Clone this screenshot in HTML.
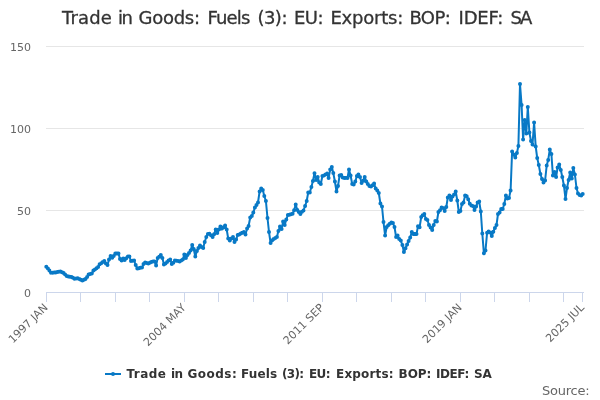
<!DOCTYPE html>
<html><head><meta charset="utf-8"><title>Trade in Goods: Fuels (3): EU: Exports: BOP: IDEF: SA</title>
<style>
html,body{margin:0;padding:0;background:#fff}
body{width:600px;height:400px;overflow:hidden}
svg{display:block;will-change:transform;font-family:"DejaVu Sans","Liberation Sans",Verdana,sans-serif}
</style></head><body>
<svg width="600" height="400" viewBox="0 0 600 400">
<rect width="600" height="400" fill="#ffffff"/>
<g shape-rendering="crispEdges"><path d="M46 46.5H584" stroke="#e6e6e6" stroke-width="1"/><path d="M46 128.5H584" stroke="#e6e6e6" stroke-width="1"/><path d="M46 210.5H584" stroke="#e6e6e6" stroke-width="1"/>
<path d="M46 292.5H584" stroke="#ccd6eb" stroke-width="1"/>
<path d="M46.5 292.5V302" stroke="#ccd6eb" stroke-width="1"/><path d="M80.5 292.5V302" stroke="#ccd6eb" stroke-width="1"/><path d="M115.5 292.5V302" stroke="#ccd6eb" stroke-width="1"/><path d="M149.5 292.5V302" stroke="#ccd6eb" stroke-width="1"/><path d="M184.5 292.5V302" stroke="#ccd6eb" stroke-width="1"/><path d="M218.5 292.5V302" stroke="#ccd6eb" stroke-width="1"/><path d="M253.5 292.5V302" stroke="#ccd6eb" stroke-width="1"/><path d="M287.5 292.5V302" stroke="#ccd6eb" stroke-width="1"/><path d="M322.5 292.5V302" stroke="#ccd6eb" stroke-width="1"/><path d="M356.5 292.5V302" stroke="#ccd6eb" stroke-width="1"/><path d="M391.5 292.5V302" stroke="#ccd6eb" stroke-width="1"/><path d="M425.5 292.5V302" stroke="#ccd6eb" stroke-width="1"/><path d="M460.5 292.5V302" stroke="#ccd6eb" stroke-width="1"/><path d="M494.5 292.5V302" stroke="#ccd6eb" stroke-width="1"/><path d="M529.5 292.5V302" stroke="#ccd6eb" stroke-width="1"/><path d="M563.5 292.5V302" stroke="#ccd6eb" stroke-width="1"/><path d="M582.5 292.5V302" stroke="#ccd6eb" stroke-width="1"/></g>
<text y="24" font-size="18" fill="#333333" stroke="#333333" stroke-width="0.3"><tspan x="62.00" textLength="49.88" lengthAdjust="spacing">Trade</tspan> <tspan x="118.10" textLength="14.92" lengthAdjust="spacing">in</tspan> <tspan x="138.60" textLength="61.44" lengthAdjust="spacing">Goods:</tspan> <tspan x="207.40" textLength="43.03" lengthAdjust="spacing">Fuels</tspan> <tspan x="257.40" textLength="30.06" lengthAdjust="spacing">(3):</tspan> <tspan x="294.00" textLength="29.62" lengthAdjust="spacing">EU:</tspan> <tspan x="330.40" textLength="72.88" lengthAdjust="spacing">Exports:</tspan> <tspan x="409.40" textLength="41.42" lengthAdjust="spacing">BOP:</tspan> <tspan x="458.60" textLength="44.66" lengthAdjust="spacing">IDEF:</tspan> <tspan x="510.40" textLength="21.98" lengthAdjust="spacing">SA</tspan></text>
<text x="31" y="51" text-anchor="end" font-size="11" fill="#666666">150</text><text x="31" y="133" text-anchor="end" font-size="11" fill="#666666">100</text><text x="31" y="215" text-anchor="end" font-size="11" fill="#666666">50</text><text x="31" y="297" text-anchor="end" font-size="11" fill="#666666">0</text>
<text x="48.5" y="308.2" text-anchor="end" font-size="11" fill="#666666" transform="rotate(-45 48.5 308.2)">1997 JAN</text><text x="186.5" y="308.2" text-anchor="end" font-size="11" fill="#666666" transform="rotate(-45 186.5 308.2)">2004 MAY</text><text x="324.6" y="308.2" text-anchor="end" font-size="11" fill="#666666" transform="rotate(-45 324.6 308.2)">2011 SEP</text><text x="462.6" y="308.2" text-anchor="end" font-size="11" fill="#666666" transform="rotate(-45 462.6 308.2)">2019 JAN</text><text x="584.9" y="308.2" text-anchor="end" font-size="11" fill="#666666" transform="rotate(-45 584.9 308.2)">2025 JUL</text>
<path d="M46.3 266.8 L47.9 268.5 L49.4 270.5 L51.0 272.8 L52.6 272.7 L54.1 272.6 L55.7 272.5 L57.3 272.1 L58.8 271.8 L60.4 271.5 L62.0 272.2 L63.6 273.0 L65.1 274.6 L66.7 276.0 L68.3 276.4 L69.8 276.7 L71.4 277.0 L73.0 277.8 L74.5 278.7 L76.1 278.5 L77.7 278.2 L79.2 278.9 L80.8 279.8 L82.4 280.5 L83.9 279.7 L85.5 279.0 L87.1 277.0 L88.6 274.5 L90.2 274.1 L91.8 273.5 L93.4 270.5 L94.9 269.4 L96.5 268.3 L98.1 266.9 L99.6 264.3 L101.2 263.3 L102.8 262.0 L104.3 261.0 L105.9 263.5 L107.5 265.0 L109.0 259.5 L110.6 256.0 L112.2 257.7 L113.7 256.0 L115.3 253.5 L116.9 253.5 L118.5 253.5 L120.0 259.0 L121.6 260.5 L123.2 258.5 L124.7 260.0 L126.3 258.2 L127.9 256.5 L129.4 256.5 L131.0 261.0 L132.6 260.7 L134.1 260.5 L135.7 265.0 L137.3 268.5 L138.8 268.3 L140.4 267.8 L142.0 267.5 L143.5 264.1 L145.1 262.5 L146.7 263.1 L148.3 263.5 L149.8 262.7 L151.4 262.0 L153.0 261.5 L154.5 261.5 L156.1 265.5 L157.7 258.0 L159.2 256.8 L160.8 255.0 L162.4 258.0 L163.9 264.5 L165.5 263.5 L167.1 261.9 L168.6 260.4 L170.2 259.5 L171.8 264.0 L173.3 262.7 L174.9 260.5 L176.5 260.7 L178.1 261.1 L179.6 261.5 L181.2 260.6 L182.8 259.5 L184.3 254.5 L185.9 258.0 L187.5 255.0 L189.0 253.0 L190.6 250.5 L192.2 245.0 L193.7 249.0 L195.3 256.5 L196.9 251.0 L198.4 248.0 L200.0 245.5 L201.6 247.0 L203.2 248.0 L204.7 242.0 L206.3 237.0 L207.9 234.0 L209.4 233.8 L211.0 235.2 L212.6 237.0 L214.1 234.2 L215.7 229.5 L217.3 233.0 L218.8 229.5 L220.4 226.5 L222.0 228.5 L223.5 227.2 L225.1 225.5 L226.7 229.5 L228.2 238.5 L229.8 240.5 L231.4 238.6 L233.0 237.0 L234.5 242.0 L236.1 239.5 L237.7 235.0 L239.2 234.4 L240.8 233.6 L242.4 232.8 L243.9 232.0 L245.5 234.5 L247.1 228.5 L248.6 226.0 L250.2 217.5 L251.8 216.0 L253.3 212.5 L254.9 207.5 L256.5 205.0 L258.0 202.5 L259.6 191.5 L261.2 188.5 L262.8 190.0 L264.3 196.0 L265.9 201.0 L267.5 218.0 L269.0 232.0 L270.6 243.0 L272.2 240.3 L273.7 239.0 L275.3 238.0 L276.9 237.0 L278.4 231.0 L280.0 226.5 L281.6 229.0 L283.1 221.5 L284.7 225.0 L286.3 219.5 L287.9 215.0 L289.4 214.7 L291.0 214.3 L292.6 213.8 L294.1 210.2 L295.7 204.5 L297.3 210.0 L298.8 212.1 L300.4 214.0 L302.0 211.7 L303.5 210.5 L305.1 206.0 L306.7 201.0 L308.2 192.5 L309.8 192.5 L311.4 187.0 L312.9 181.0 L314.5 173.2 L316.1 180.0 L317.7 177.0 L319.2 182.5 L320.8 184.0 L322.4 176.0 L323.9 175.5 L325.5 174.5 L327.1 173.5 L328.6 178.0 L330.2 169.5 L331.8 167.0 L333.3 173.0 L334.9 181.5 L336.5 191.5 L338.0 186.0 L339.6 175.5 L341.2 175.0 L342.7 177.5 L344.3 178.0 L345.9 178.0 L347.5 178.0 L349.0 169.5 L350.6 175.5 L352.2 184.0 L353.7 184.5 L355.3 181.5 L356.9 176.0 L358.4 174.5 L360.0 177.0 L361.6 183.0 L363.1 180.7 L364.7 177.0 L366.3 181.5 L367.8 183.9 L369.4 186.0 L371.0 186.5 L372.6 185.2 L374.1 183.5 L375.7 188.5 L377.3 190.5 L378.8 193.0 L380.4 203.5 L382.0 206.5 L383.5 222.0 L385.1 235.5 L386.7 227.0 L388.2 225.3 L389.8 223.7 L391.4 222.5 L392.9 223.0 L394.5 227.0 L396.1 237.0 L397.6 235.5 L399.2 239.0 L400.8 240.5 L402.4 245.0 L403.9 252.0 L405.5 248.3 L407.1 244.5 L408.6 241.0 L410.2 237.5 L411.8 232.0 L413.3 234.0 L414.9 234.0 L416.5 234.0 L418.0 226.3 L419.6 227.3 L421.2 217.0 L422.7 215.3 L424.3 214.0 L425.9 219.0 L427.4 220.0 L429.0 225.0 L430.6 227.5 L432.2 230.0 L433.7 225.0 L435.3 221.0 L436.9 221.5 L438.4 212.0 L440.0 210.3 L441.6 207.5 L443.1 207.9 L444.7 211.0 L446.3 207.0 L447.8 197.5 L449.4 195.5 L451.0 200.0 L452.5 196.6 L454.1 194.5 L455.7 191.5 L457.3 200.5 L458.8 212.0 L460.4 211.0 L462.0 204.0 L463.5 202.5 L465.1 195.5 L466.7 196.2 L468.2 199.2 L469.8 203.8 L471.4 205.5 L472.9 206.0 L474.5 210.0 L476.1 206.5 L477.6 202.5 L479.2 201.5 L480.8 211.5 L482.3 233.5 L483.9 253.3 L485.5 250.5 L487.1 232.7 L488.6 231.5 L490.2 232.5 L491.8 236.0 L493.3 231.8 L494.9 228.0 L496.5 225.0 L498.0 214.0 L499.6 212.5 L501.2 209.0 L502.7 209.0 L504.3 204.0 L505.9 195.5 L507.4 198.5 L509.0 198.0 L510.6 190.5 L512.1 151.5 L513.7 154.5 L515.3 157.5 L516.9 153.0 L518.4 146.0 L520.0 84.0 L521.6 105.0 L523.1 139.5 L524.7 120.0 L526.3 133.5 L527.8 107.0 L529.4 132.5 L531.0 141.0 L532.5 144.5 L534.1 122.5 L535.7 146.5 L537.2 158.0 L538.8 165.0 L540.4 174.0 L542.0 179.0 L543.5 182.5 L545.1 180.5 L546.7 165.5 L548.2 160.0 L549.8 149.5 L551.4 154.0 L552.9 175.5 L554.5 172.0 L556.1 177.0 L557.6 167.5 L559.2 164.5 L560.8 170.0 L562.3 177.0 L563.9 185.5 L565.5 199.0 L567.0 188.0 L568.6 180.0 L570.2 172.5 L571.8 178.5 L573.3 168.0 L574.9 174.5 L576.5 188.0 L578.0 193.5 L579.6 195.0 L581.2 195.5 L582.7 194.0" fill="none" stroke="#0879c6" stroke-width="2" stroke-linejoin="round" stroke-linecap="round"/>
<path d="M44.3 266.8a2 2 0 1 0 4 0a2 2 0 1 0 -4 0zM45.9 268.5a2 2 0 1 0 4 0a2 2 0 1 0 -4 0zM47.4 270.5a2 2 0 1 0 4 0a2 2 0 1 0 -4 0zM49.0 272.8a2 2 0 1 0 4 0a2 2 0 1 0 -4 0zM50.6 272.7a2 2 0 1 0 4 0a2 2 0 1 0 -4 0zM52.1 272.6a2 2 0 1 0 4 0a2 2 0 1 0 -4 0zM53.7 272.5a2 2 0 1 0 4 0a2 2 0 1 0 -4 0zM55.3 272.1a2 2 0 1 0 4 0a2 2 0 1 0 -4 0zM56.8 271.8a2 2 0 1 0 4 0a2 2 0 1 0 -4 0zM58.4 271.5a2 2 0 1 0 4 0a2 2 0 1 0 -4 0zM60.0 272.2a2 2 0 1 0 4 0a2 2 0 1 0 -4 0zM61.6 273.0a2 2 0 1 0 4 0a2 2 0 1 0 -4 0zM63.1 274.6a2 2 0 1 0 4 0a2 2 0 1 0 -4 0zM64.7 276.0a2 2 0 1 0 4 0a2 2 0 1 0 -4 0zM66.3 276.4a2 2 0 1 0 4 0a2 2 0 1 0 -4 0zM67.8 276.7a2 2 0 1 0 4 0a2 2 0 1 0 -4 0zM69.4 277.0a2 2 0 1 0 4 0a2 2 0 1 0 -4 0zM71.0 277.8a2 2 0 1 0 4 0a2 2 0 1 0 -4 0zM72.5 278.7a2 2 0 1 0 4 0a2 2 0 1 0 -4 0zM74.1 278.5a2 2 0 1 0 4 0a2 2 0 1 0 -4 0zM75.7 278.2a2 2 0 1 0 4 0a2 2 0 1 0 -4 0zM77.2 278.9a2 2 0 1 0 4 0a2 2 0 1 0 -4 0zM78.8 279.8a2 2 0 1 0 4 0a2 2 0 1 0 -4 0zM80.4 280.5a2 2 0 1 0 4 0a2 2 0 1 0 -4 0zM81.9 279.7a2 2 0 1 0 4 0a2 2 0 1 0 -4 0zM83.5 279.0a2 2 0 1 0 4 0a2 2 0 1 0 -4 0zM85.1 277.0a2 2 0 1 0 4 0a2 2 0 1 0 -4 0zM86.6 274.5a2 2 0 1 0 4 0a2 2 0 1 0 -4 0zM88.2 274.1a2 2 0 1 0 4 0a2 2 0 1 0 -4 0zM89.8 273.5a2 2 0 1 0 4 0a2 2 0 1 0 -4 0zM91.4 270.5a2 2 0 1 0 4 0a2 2 0 1 0 -4 0zM92.9 269.4a2 2 0 1 0 4 0a2 2 0 1 0 -4 0zM94.5 268.3a2 2 0 1 0 4 0a2 2 0 1 0 -4 0zM96.1 266.9a2 2 0 1 0 4 0a2 2 0 1 0 -4 0zM97.6 264.3a2 2 0 1 0 4 0a2 2 0 1 0 -4 0zM99.2 263.3a2 2 0 1 0 4 0a2 2 0 1 0 -4 0zM100.8 262.0a2 2 0 1 0 4 0a2 2 0 1 0 -4 0zM102.3 261.0a2 2 0 1 0 4 0a2 2 0 1 0 -4 0zM103.9 263.5a2 2 0 1 0 4 0a2 2 0 1 0 -4 0zM105.5 265.0a2 2 0 1 0 4 0a2 2 0 1 0 -4 0zM107.0 259.5a2 2 0 1 0 4 0a2 2 0 1 0 -4 0zM108.6 256.0a2 2 0 1 0 4 0a2 2 0 1 0 -4 0zM110.2 257.7a2 2 0 1 0 4 0a2 2 0 1 0 -4 0zM111.7 256.0a2 2 0 1 0 4 0a2 2 0 1 0 -4 0zM113.3 253.5a2 2 0 1 0 4 0a2 2 0 1 0 -4 0zM114.9 253.5a2 2 0 1 0 4 0a2 2 0 1 0 -4 0zM116.5 253.5a2 2 0 1 0 4 0a2 2 0 1 0 -4 0zM118.0 259.0a2 2 0 1 0 4 0a2 2 0 1 0 -4 0zM119.6 260.5a2 2 0 1 0 4 0a2 2 0 1 0 -4 0zM121.2 258.5a2 2 0 1 0 4 0a2 2 0 1 0 -4 0zM122.7 260.0a2 2 0 1 0 4 0a2 2 0 1 0 -4 0zM124.3 258.2a2 2 0 1 0 4 0a2 2 0 1 0 -4 0zM125.9 256.5a2 2 0 1 0 4 0a2 2 0 1 0 -4 0zM127.4 256.5a2 2 0 1 0 4 0a2 2 0 1 0 -4 0zM129.0 261.0a2 2 0 1 0 4 0a2 2 0 1 0 -4 0zM130.6 260.7a2 2 0 1 0 4 0a2 2 0 1 0 -4 0zM132.1 260.5a2 2 0 1 0 4 0a2 2 0 1 0 -4 0zM133.7 265.0a2 2 0 1 0 4 0a2 2 0 1 0 -4 0zM135.3 268.5a2 2 0 1 0 4 0a2 2 0 1 0 -4 0zM136.8 268.3a2 2 0 1 0 4 0a2 2 0 1 0 -4 0zM138.4 267.8a2 2 0 1 0 4 0a2 2 0 1 0 -4 0zM140.0 267.5a2 2 0 1 0 4 0a2 2 0 1 0 -4 0zM141.5 264.1a2 2 0 1 0 4 0a2 2 0 1 0 -4 0zM143.1 262.5a2 2 0 1 0 4 0a2 2 0 1 0 -4 0zM144.7 263.1a2 2 0 1 0 4 0a2 2 0 1 0 -4 0zM146.3 263.5a2 2 0 1 0 4 0a2 2 0 1 0 -4 0zM147.8 262.7a2 2 0 1 0 4 0a2 2 0 1 0 -4 0zM149.4 262.0a2 2 0 1 0 4 0a2 2 0 1 0 -4 0zM151.0 261.5a2 2 0 1 0 4 0a2 2 0 1 0 -4 0zM152.5 261.5a2 2 0 1 0 4 0a2 2 0 1 0 -4 0zM154.1 265.5a2 2 0 1 0 4 0a2 2 0 1 0 -4 0zM155.7 258.0a2 2 0 1 0 4 0a2 2 0 1 0 -4 0zM157.2 256.8a2 2 0 1 0 4 0a2 2 0 1 0 -4 0zM158.8 255.0a2 2 0 1 0 4 0a2 2 0 1 0 -4 0zM160.4 258.0a2 2 0 1 0 4 0a2 2 0 1 0 -4 0zM161.9 264.5a2 2 0 1 0 4 0a2 2 0 1 0 -4 0zM163.5 263.5a2 2 0 1 0 4 0a2 2 0 1 0 -4 0zM165.1 261.9a2 2 0 1 0 4 0a2 2 0 1 0 -4 0zM166.6 260.4a2 2 0 1 0 4 0a2 2 0 1 0 -4 0zM168.2 259.5a2 2 0 1 0 4 0a2 2 0 1 0 -4 0zM169.8 264.0a2 2 0 1 0 4 0a2 2 0 1 0 -4 0zM171.3 262.7a2 2 0 1 0 4 0a2 2 0 1 0 -4 0zM172.9 260.5a2 2 0 1 0 4 0a2 2 0 1 0 -4 0zM174.5 260.7a2 2 0 1 0 4 0a2 2 0 1 0 -4 0zM176.1 261.1a2 2 0 1 0 4 0a2 2 0 1 0 -4 0zM177.6 261.5a2 2 0 1 0 4 0a2 2 0 1 0 -4 0zM179.2 260.6a2 2 0 1 0 4 0a2 2 0 1 0 -4 0zM180.8 259.5a2 2 0 1 0 4 0a2 2 0 1 0 -4 0zM182.3 254.5a2 2 0 1 0 4 0a2 2 0 1 0 -4 0zM183.9 258.0a2 2 0 1 0 4 0a2 2 0 1 0 -4 0zM185.5 255.0a2 2 0 1 0 4 0a2 2 0 1 0 -4 0zM187.0 253.0a2 2 0 1 0 4 0a2 2 0 1 0 -4 0zM188.6 250.5a2 2 0 1 0 4 0a2 2 0 1 0 -4 0zM190.2 245.0a2 2 0 1 0 4 0a2 2 0 1 0 -4 0zM191.7 249.0a2 2 0 1 0 4 0a2 2 0 1 0 -4 0zM193.3 256.5a2 2 0 1 0 4 0a2 2 0 1 0 -4 0zM194.9 251.0a2 2 0 1 0 4 0a2 2 0 1 0 -4 0zM196.4 248.0a2 2 0 1 0 4 0a2 2 0 1 0 -4 0zM198.0 245.5a2 2 0 1 0 4 0a2 2 0 1 0 -4 0zM199.6 247.0a2 2 0 1 0 4 0a2 2 0 1 0 -4 0zM201.2 248.0a2 2 0 1 0 4 0a2 2 0 1 0 -4 0zM202.7 242.0a2 2 0 1 0 4 0a2 2 0 1 0 -4 0zM204.3 237.0a2 2 0 1 0 4 0a2 2 0 1 0 -4 0zM205.9 234.0a2 2 0 1 0 4 0a2 2 0 1 0 -4 0zM207.4 233.8a2 2 0 1 0 4 0a2 2 0 1 0 -4 0zM209.0 235.2a2 2 0 1 0 4 0a2 2 0 1 0 -4 0zM210.6 237.0a2 2 0 1 0 4 0a2 2 0 1 0 -4 0zM212.1 234.2a2 2 0 1 0 4 0a2 2 0 1 0 -4 0zM213.7 229.5a2 2 0 1 0 4 0a2 2 0 1 0 -4 0zM215.3 233.0a2 2 0 1 0 4 0a2 2 0 1 0 -4 0zM216.8 229.5a2 2 0 1 0 4 0a2 2 0 1 0 -4 0zM218.4 226.5a2 2 0 1 0 4 0a2 2 0 1 0 -4 0zM220.0 228.5a2 2 0 1 0 4 0a2 2 0 1 0 -4 0zM221.5 227.2a2 2 0 1 0 4 0a2 2 0 1 0 -4 0zM223.1 225.5a2 2 0 1 0 4 0a2 2 0 1 0 -4 0zM224.7 229.5a2 2 0 1 0 4 0a2 2 0 1 0 -4 0zM226.2 238.5a2 2 0 1 0 4 0a2 2 0 1 0 -4 0zM227.8 240.5a2 2 0 1 0 4 0a2 2 0 1 0 -4 0zM229.4 238.6a2 2 0 1 0 4 0a2 2 0 1 0 -4 0zM231.0 237.0a2 2 0 1 0 4 0a2 2 0 1 0 -4 0zM232.5 242.0a2 2 0 1 0 4 0a2 2 0 1 0 -4 0zM234.1 239.5a2 2 0 1 0 4 0a2 2 0 1 0 -4 0zM235.7 235.0a2 2 0 1 0 4 0a2 2 0 1 0 -4 0zM237.2 234.4a2 2 0 1 0 4 0a2 2 0 1 0 -4 0zM238.8 233.6a2 2 0 1 0 4 0a2 2 0 1 0 -4 0zM240.4 232.8a2 2 0 1 0 4 0a2 2 0 1 0 -4 0zM241.9 232.0a2 2 0 1 0 4 0a2 2 0 1 0 -4 0zM243.5 234.5a2 2 0 1 0 4 0a2 2 0 1 0 -4 0zM245.1 228.5a2 2 0 1 0 4 0a2 2 0 1 0 -4 0zM246.6 226.0a2 2 0 1 0 4 0a2 2 0 1 0 -4 0zM248.2 217.5a2 2 0 1 0 4 0a2 2 0 1 0 -4 0zM249.8 216.0a2 2 0 1 0 4 0a2 2 0 1 0 -4 0zM251.3 212.5a2 2 0 1 0 4 0a2 2 0 1 0 -4 0zM252.9 207.5a2 2 0 1 0 4 0a2 2 0 1 0 -4 0zM254.5 205.0a2 2 0 1 0 4 0a2 2 0 1 0 -4 0zM256.0 202.5a2 2 0 1 0 4 0a2 2 0 1 0 -4 0zM257.6 191.5a2 2 0 1 0 4 0a2 2 0 1 0 -4 0zM259.2 188.5a2 2 0 1 0 4 0a2 2 0 1 0 -4 0zM260.8 190.0a2 2 0 1 0 4 0a2 2 0 1 0 -4 0zM262.3 196.0a2 2 0 1 0 4 0a2 2 0 1 0 -4 0zM263.9 201.0a2 2 0 1 0 4 0a2 2 0 1 0 -4 0zM265.5 218.0a2 2 0 1 0 4 0a2 2 0 1 0 -4 0zM267.0 232.0a2 2 0 1 0 4 0a2 2 0 1 0 -4 0zM268.6 243.0a2 2 0 1 0 4 0a2 2 0 1 0 -4 0zM270.2 240.3a2 2 0 1 0 4 0a2 2 0 1 0 -4 0zM271.7 239.0a2 2 0 1 0 4 0a2 2 0 1 0 -4 0zM273.3 238.0a2 2 0 1 0 4 0a2 2 0 1 0 -4 0zM274.9 237.0a2 2 0 1 0 4 0a2 2 0 1 0 -4 0zM276.4 231.0a2 2 0 1 0 4 0a2 2 0 1 0 -4 0zM278.0 226.5a2 2 0 1 0 4 0a2 2 0 1 0 -4 0zM279.6 229.0a2 2 0 1 0 4 0a2 2 0 1 0 -4 0zM281.1 221.5a2 2 0 1 0 4 0a2 2 0 1 0 -4 0zM282.7 225.0a2 2 0 1 0 4 0a2 2 0 1 0 -4 0zM284.3 219.5a2 2 0 1 0 4 0a2 2 0 1 0 -4 0zM285.9 215.0a2 2 0 1 0 4 0a2 2 0 1 0 -4 0zM287.4 214.7a2 2 0 1 0 4 0a2 2 0 1 0 -4 0zM289.0 214.3a2 2 0 1 0 4 0a2 2 0 1 0 -4 0zM290.6 213.8a2 2 0 1 0 4 0a2 2 0 1 0 -4 0zM292.1 210.2a2 2 0 1 0 4 0a2 2 0 1 0 -4 0zM293.7 204.5a2 2 0 1 0 4 0a2 2 0 1 0 -4 0zM295.3 210.0a2 2 0 1 0 4 0a2 2 0 1 0 -4 0zM296.8 212.1a2 2 0 1 0 4 0a2 2 0 1 0 -4 0zM298.4 214.0a2 2 0 1 0 4 0a2 2 0 1 0 -4 0zM300.0 211.7a2 2 0 1 0 4 0a2 2 0 1 0 -4 0zM301.5 210.5a2 2 0 1 0 4 0a2 2 0 1 0 -4 0zM303.1 206.0a2 2 0 1 0 4 0a2 2 0 1 0 -4 0zM304.7 201.0a2 2 0 1 0 4 0a2 2 0 1 0 -4 0zM306.2 192.5a2 2 0 1 0 4 0a2 2 0 1 0 -4 0zM307.8 192.5a2 2 0 1 0 4 0a2 2 0 1 0 -4 0zM309.4 187.0a2 2 0 1 0 4 0a2 2 0 1 0 -4 0zM310.9 181.0a2 2 0 1 0 4 0a2 2 0 1 0 -4 0zM312.5 173.2a2 2 0 1 0 4 0a2 2 0 1 0 -4 0zM314.1 180.0a2 2 0 1 0 4 0a2 2 0 1 0 -4 0zM315.7 177.0a2 2 0 1 0 4 0a2 2 0 1 0 -4 0zM317.2 182.5a2 2 0 1 0 4 0a2 2 0 1 0 -4 0zM318.8 184.0a2 2 0 1 0 4 0a2 2 0 1 0 -4 0zM320.4 176.0a2 2 0 1 0 4 0a2 2 0 1 0 -4 0zM321.9 175.5a2 2 0 1 0 4 0a2 2 0 1 0 -4 0zM323.5 174.5a2 2 0 1 0 4 0a2 2 0 1 0 -4 0zM325.1 173.5a2 2 0 1 0 4 0a2 2 0 1 0 -4 0zM326.6 178.0a2 2 0 1 0 4 0a2 2 0 1 0 -4 0zM328.2 169.5a2 2 0 1 0 4 0a2 2 0 1 0 -4 0zM329.8 167.0a2 2 0 1 0 4 0a2 2 0 1 0 -4 0zM331.3 173.0a2 2 0 1 0 4 0a2 2 0 1 0 -4 0zM332.9 181.5a2 2 0 1 0 4 0a2 2 0 1 0 -4 0zM334.5 191.5a2 2 0 1 0 4 0a2 2 0 1 0 -4 0zM336.0 186.0a2 2 0 1 0 4 0a2 2 0 1 0 -4 0zM337.6 175.5a2 2 0 1 0 4 0a2 2 0 1 0 -4 0zM339.2 175.0a2 2 0 1 0 4 0a2 2 0 1 0 -4 0zM340.7 177.5a2 2 0 1 0 4 0a2 2 0 1 0 -4 0zM342.3 178.0a2 2 0 1 0 4 0a2 2 0 1 0 -4 0zM343.9 178.0a2 2 0 1 0 4 0a2 2 0 1 0 -4 0zM345.5 178.0a2 2 0 1 0 4 0a2 2 0 1 0 -4 0zM347.0 169.5a2 2 0 1 0 4 0a2 2 0 1 0 -4 0zM348.6 175.5a2 2 0 1 0 4 0a2 2 0 1 0 -4 0zM350.2 184.0a2 2 0 1 0 4 0a2 2 0 1 0 -4 0zM351.7 184.5a2 2 0 1 0 4 0a2 2 0 1 0 -4 0zM353.3 181.5a2 2 0 1 0 4 0a2 2 0 1 0 -4 0zM354.9 176.0a2 2 0 1 0 4 0a2 2 0 1 0 -4 0zM356.4 174.5a2 2 0 1 0 4 0a2 2 0 1 0 -4 0zM358.0 177.0a2 2 0 1 0 4 0a2 2 0 1 0 -4 0zM359.6 183.0a2 2 0 1 0 4 0a2 2 0 1 0 -4 0zM361.1 180.7a2 2 0 1 0 4 0a2 2 0 1 0 -4 0zM362.7 177.0a2 2 0 1 0 4 0a2 2 0 1 0 -4 0zM364.3 181.5a2 2 0 1 0 4 0a2 2 0 1 0 -4 0zM365.8 183.9a2 2 0 1 0 4 0a2 2 0 1 0 -4 0zM367.4 186.0a2 2 0 1 0 4 0a2 2 0 1 0 -4 0zM369.0 186.5a2 2 0 1 0 4 0a2 2 0 1 0 -4 0zM370.6 185.2a2 2 0 1 0 4 0a2 2 0 1 0 -4 0zM372.1 183.5a2 2 0 1 0 4 0a2 2 0 1 0 -4 0zM373.7 188.5a2 2 0 1 0 4 0a2 2 0 1 0 -4 0zM375.3 190.5a2 2 0 1 0 4 0a2 2 0 1 0 -4 0zM376.8 193.0a2 2 0 1 0 4 0a2 2 0 1 0 -4 0zM378.4 203.5a2 2 0 1 0 4 0a2 2 0 1 0 -4 0zM380.0 206.5a2 2 0 1 0 4 0a2 2 0 1 0 -4 0zM381.5 222.0a2 2 0 1 0 4 0a2 2 0 1 0 -4 0zM383.1 235.5a2 2 0 1 0 4 0a2 2 0 1 0 -4 0zM384.7 227.0a2 2 0 1 0 4 0a2 2 0 1 0 -4 0zM386.2 225.3a2 2 0 1 0 4 0a2 2 0 1 0 -4 0zM387.8 223.7a2 2 0 1 0 4 0a2 2 0 1 0 -4 0zM389.4 222.5a2 2 0 1 0 4 0a2 2 0 1 0 -4 0zM390.9 223.0a2 2 0 1 0 4 0a2 2 0 1 0 -4 0zM392.5 227.0a2 2 0 1 0 4 0a2 2 0 1 0 -4 0zM394.1 237.0a2 2 0 1 0 4 0a2 2 0 1 0 -4 0zM395.6 235.5a2 2 0 1 0 4 0a2 2 0 1 0 -4 0zM397.2 239.0a2 2 0 1 0 4 0a2 2 0 1 0 -4 0zM398.8 240.5a2 2 0 1 0 4 0a2 2 0 1 0 -4 0zM400.4 245.0a2 2 0 1 0 4 0a2 2 0 1 0 -4 0zM401.9 252.0a2 2 0 1 0 4 0a2 2 0 1 0 -4 0zM403.5 248.3a2 2 0 1 0 4 0a2 2 0 1 0 -4 0zM405.1 244.5a2 2 0 1 0 4 0a2 2 0 1 0 -4 0zM406.6 241.0a2 2 0 1 0 4 0a2 2 0 1 0 -4 0zM408.2 237.5a2 2 0 1 0 4 0a2 2 0 1 0 -4 0zM409.8 232.0a2 2 0 1 0 4 0a2 2 0 1 0 -4 0zM411.3 234.0a2 2 0 1 0 4 0a2 2 0 1 0 -4 0zM412.9 234.0a2 2 0 1 0 4 0a2 2 0 1 0 -4 0zM414.5 234.0a2 2 0 1 0 4 0a2 2 0 1 0 -4 0zM416.0 226.3a2 2 0 1 0 4 0a2 2 0 1 0 -4 0zM417.6 227.3a2 2 0 1 0 4 0a2 2 0 1 0 -4 0zM419.2 217.0a2 2 0 1 0 4 0a2 2 0 1 0 -4 0zM420.7 215.3a2 2 0 1 0 4 0a2 2 0 1 0 -4 0zM422.3 214.0a2 2 0 1 0 4 0a2 2 0 1 0 -4 0zM423.9 219.0a2 2 0 1 0 4 0a2 2 0 1 0 -4 0zM425.4 220.0a2 2 0 1 0 4 0a2 2 0 1 0 -4 0zM427.0 225.0a2 2 0 1 0 4 0a2 2 0 1 0 -4 0zM428.6 227.5a2 2 0 1 0 4 0a2 2 0 1 0 -4 0zM430.2 230.0a2 2 0 1 0 4 0a2 2 0 1 0 -4 0zM431.7 225.0a2 2 0 1 0 4 0a2 2 0 1 0 -4 0zM433.3 221.0a2 2 0 1 0 4 0a2 2 0 1 0 -4 0zM434.9 221.5a2 2 0 1 0 4 0a2 2 0 1 0 -4 0zM436.4 212.0a2 2 0 1 0 4 0a2 2 0 1 0 -4 0zM438.0 210.3a2 2 0 1 0 4 0a2 2 0 1 0 -4 0zM439.6 207.5a2 2 0 1 0 4 0a2 2 0 1 0 -4 0zM441.1 207.9a2 2 0 1 0 4 0a2 2 0 1 0 -4 0zM442.7 211.0a2 2 0 1 0 4 0a2 2 0 1 0 -4 0zM444.3 207.0a2 2 0 1 0 4 0a2 2 0 1 0 -4 0zM445.8 197.5a2 2 0 1 0 4 0a2 2 0 1 0 -4 0zM447.4 195.5a2 2 0 1 0 4 0a2 2 0 1 0 -4 0zM449.0 200.0a2 2 0 1 0 4 0a2 2 0 1 0 -4 0zM450.5 196.6a2 2 0 1 0 4 0a2 2 0 1 0 -4 0zM452.1 194.5a2 2 0 1 0 4 0a2 2 0 1 0 -4 0zM453.7 191.5a2 2 0 1 0 4 0a2 2 0 1 0 -4 0zM455.3 200.5a2 2 0 1 0 4 0a2 2 0 1 0 -4 0zM456.8 212.0a2 2 0 1 0 4 0a2 2 0 1 0 -4 0zM458.4 211.0a2 2 0 1 0 4 0a2 2 0 1 0 -4 0zM460.0 204.0a2 2 0 1 0 4 0a2 2 0 1 0 -4 0zM461.5 202.5a2 2 0 1 0 4 0a2 2 0 1 0 -4 0zM463.1 195.5a2 2 0 1 0 4 0a2 2 0 1 0 -4 0zM464.7 196.2a2 2 0 1 0 4 0a2 2 0 1 0 -4 0zM466.2 199.2a2 2 0 1 0 4 0a2 2 0 1 0 -4 0zM467.8 203.8a2 2 0 1 0 4 0a2 2 0 1 0 -4 0zM469.4 205.5a2 2 0 1 0 4 0a2 2 0 1 0 -4 0zM470.9 206.0a2 2 0 1 0 4 0a2 2 0 1 0 -4 0zM472.5 210.0a2 2 0 1 0 4 0a2 2 0 1 0 -4 0zM474.1 206.5a2 2 0 1 0 4 0a2 2 0 1 0 -4 0zM475.6 202.5a2 2 0 1 0 4 0a2 2 0 1 0 -4 0zM477.2 201.5a2 2 0 1 0 4 0a2 2 0 1 0 -4 0zM478.8 211.5a2 2 0 1 0 4 0a2 2 0 1 0 -4 0zM480.3 233.5a2 2 0 1 0 4 0a2 2 0 1 0 -4 0zM481.9 253.3a2 2 0 1 0 4 0a2 2 0 1 0 -4 0zM483.5 250.5a2 2 0 1 0 4 0a2 2 0 1 0 -4 0zM485.1 232.7a2 2 0 1 0 4 0a2 2 0 1 0 -4 0zM486.6 231.5a2 2 0 1 0 4 0a2 2 0 1 0 -4 0zM488.2 232.5a2 2 0 1 0 4 0a2 2 0 1 0 -4 0zM489.8 236.0a2 2 0 1 0 4 0a2 2 0 1 0 -4 0zM491.3 231.8a2 2 0 1 0 4 0a2 2 0 1 0 -4 0zM492.9 228.0a2 2 0 1 0 4 0a2 2 0 1 0 -4 0zM494.5 225.0a2 2 0 1 0 4 0a2 2 0 1 0 -4 0zM496.0 214.0a2 2 0 1 0 4 0a2 2 0 1 0 -4 0zM497.6 212.5a2 2 0 1 0 4 0a2 2 0 1 0 -4 0zM499.2 209.0a2 2 0 1 0 4 0a2 2 0 1 0 -4 0zM500.7 209.0a2 2 0 1 0 4 0a2 2 0 1 0 -4 0zM502.3 204.0a2 2 0 1 0 4 0a2 2 0 1 0 -4 0zM503.9 195.5a2 2 0 1 0 4 0a2 2 0 1 0 -4 0zM505.4 198.5a2 2 0 1 0 4 0a2 2 0 1 0 -4 0zM507.0 198.0a2 2 0 1 0 4 0a2 2 0 1 0 -4 0zM508.6 190.5a2 2 0 1 0 4 0a2 2 0 1 0 -4 0zM510.1 151.5a2 2 0 1 0 4 0a2 2 0 1 0 -4 0zM511.7 154.5a2 2 0 1 0 4 0a2 2 0 1 0 -4 0zM513.3 157.5a2 2 0 1 0 4 0a2 2 0 1 0 -4 0zM514.9 153.0a2 2 0 1 0 4 0a2 2 0 1 0 -4 0zM516.4 146.0a2 2 0 1 0 4 0a2 2 0 1 0 -4 0zM518.0 84.0a2 2 0 1 0 4 0a2 2 0 1 0 -4 0zM519.6 105.0a2 2 0 1 0 4 0a2 2 0 1 0 -4 0zM521.1 139.5a2 2 0 1 0 4 0a2 2 0 1 0 -4 0zM522.7 120.0a2 2 0 1 0 4 0a2 2 0 1 0 -4 0zM524.3 133.5a2 2 0 1 0 4 0a2 2 0 1 0 -4 0zM525.8 107.0a2 2 0 1 0 4 0a2 2 0 1 0 -4 0zM527.4 132.5a2 2 0 1 0 4 0a2 2 0 1 0 -4 0zM529.0 141.0a2 2 0 1 0 4 0a2 2 0 1 0 -4 0zM530.5 144.5a2 2 0 1 0 4 0a2 2 0 1 0 -4 0zM532.1 122.5a2 2 0 1 0 4 0a2 2 0 1 0 -4 0zM533.7 146.5a2 2 0 1 0 4 0a2 2 0 1 0 -4 0zM535.2 158.0a2 2 0 1 0 4 0a2 2 0 1 0 -4 0zM536.8 165.0a2 2 0 1 0 4 0a2 2 0 1 0 -4 0zM538.4 174.0a2 2 0 1 0 4 0a2 2 0 1 0 -4 0zM540.0 179.0a2 2 0 1 0 4 0a2 2 0 1 0 -4 0zM541.5 182.5a2 2 0 1 0 4 0a2 2 0 1 0 -4 0zM543.1 180.5a2 2 0 1 0 4 0a2 2 0 1 0 -4 0zM544.7 165.5a2 2 0 1 0 4 0a2 2 0 1 0 -4 0zM546.2 160.0a2 2 0 1 0 4 0a2 2 0 1 0 -4 0zM547.8 149.5a2 2 0 1 0 4 0a2 2 0 1 0 -4 0zM549.4 154.0a2 2 0 1 0 4 0a2 2 0 1 0 -4 0zM550.9 175.5a2 2 0 1 0 4 0a2 2 0 1 0 -4 0zM552.5 172.0a2 2 0 1 0 4 0a2 2 0 1 0 -4 0zM554.1 177.0a2 2 0 1 0 4 0a2 2 0 1 0 -4 0zM555.6 167.5a2 2 0 1 0 4 0a2 2 0 1 0 -4 0zM557.2 164.5a2 2 0 1 0 4 0a2 2 0 1 0 -4 0zM558.8 170.0a2 2 0 1 0 4 0a2 2 0 1 0 -4 0zM560.3 177.0a2 2 0 1 0 4 0a2 2 0 1 0 -4 0zM561.9 185.5a2 2 0 1 0 4 0a2 2 0 1 0 -4 0zM563.5 199.0a2 2 0 1 0 4 0a2 2 0 1 0 -4 0zM565.0 188.0a2 2 0 1 0 4 0a2 2 0 1 0 -4 0zM566.6 180.0a2 2 0 1 0 4 0a2 2 0 1 0 -4 0zM568.2 172.5a2 2 0 1 0 4 0a2 2 0 1 0 -4 0zM569.8 178.5a2 2 0 1 0 4 0a2 2 0 1 0 -4 0zM571.3 168.0a2 2 0 1 0 4 0a2 2 0 1 0 -4 0zM572.9 174.5a2 2 0 1 0 4 0a2 2 0 1 0 -4 0zM574.5 188.0a2 2 0 1 0 4 0a2 2 0 1 0 -4 0zM576.0 193.5a2 2 0 1 0 4 0a2 2 0 1 0 -4 0zM577.6 195.0a2 2 0 1 0 4 0a2 2 0 1 0 -4 0zM579.2 195.5a2 2 0 1 0 4 0a2 2 0 1 0 -4 0zM580.7 194.0a2 2 0 1 0 4 0a2 2 0 1 0 -4 0z" fill="#0879c6"/>
<path d="M105 374H121" stroke="#0879c6" stroke-width="2"/>
<circle cx="113" cy="374" r="2" fill="#0879c6"/>
<text y="378" font-size="12" font-weight="bold" fill="#333333"><tspan x="126.40" textLength="39.53" lengthAdjust="spacing">Trade</tspan> <tspan x="170.90" textLength="12.06" lengthAdjust="spacing">in</tspan> <tspan x="187.40" textLength="49.38" lengthAdjust="spacing">Goods:</tspan> <tspan x="241.10" textLength="36.05" lengthAdjust="spacing">Fuels</tspan> <tspan x="282.00" textLength="22.12" lengthAdjust="spacing">(3):</tspan> <tspan x="309.10" textLength="21.35" lengthAdjust="spacing">EU:</tspan> <tspan x="336.10" textLength="57.48" lengthAdjust="spacing">Exports:</tspan> <tspan x="398.60" textLength="32.65" lengthAdjust="spacing">BOP:</tspan> <tspan x="436.10" textLength="33.17" lengthAdjust="spacing">IDEF:</tspan> <tspan x="474.00" textLength="17.84" lengthAdjust="spacing">SA</tspan></text>
<text x="542.05" y="395" textLength="47.5" lengthAdjust="spacing" font-size="13" fill="#666666">Source:</text>
</svg>
</body></html>
